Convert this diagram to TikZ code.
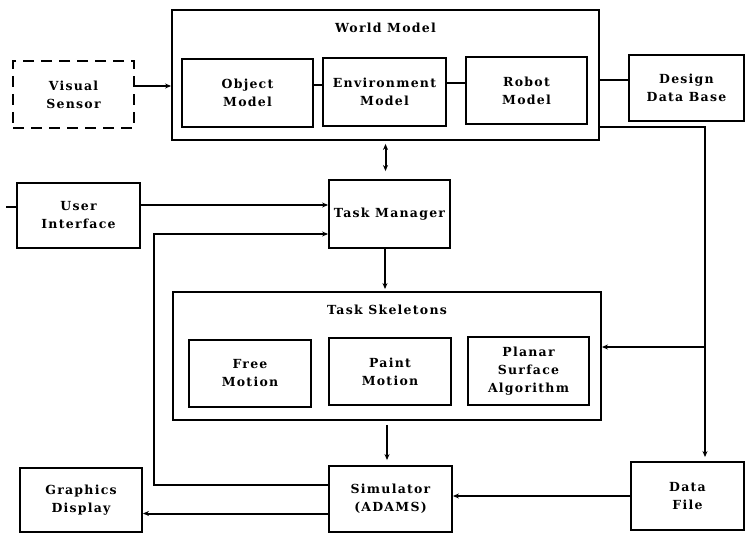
\documentclass[tikz,border=0pt]{standalone}
\usepackage{fontspec}
\newfontfamily\diafont{DejaVu Serif}[LetterSpace=10]
\usetikzlibrary{arrows.meta,positioning}

\begin{document}
\begin{tikzpicture}[x=1pt,y=-1pt,
  txt/.style={font=\diafont\bfseries\fontsize{12.5}{18}\selectfont,align=center},
  box/.style={txt,draw,line width=1.9pt,inner sep=0pt},
  sub/.style={box,line width=2.3pt,minimum width=122pt,minimum height=67pt},
  frame/.style={draw,line width=1.9pt,inner sep=0pt},
  link/.style={line width=2pt},
  arr/.style={link,-{Stealth[length=6pt,width=5pt]}}]
  \useasboundingbox (0,0) rectangle (746,534);
  % world model
  \node[frame,minimum width=427pt,minimum height=130pt] (wm) at (385.5,75) {};
  \node[txt] (wmtitle) at (385.5,28) {World Model};
  \node[sub,minimum width=131pt,minimum height=68pt] (om) at (247.5,93) {Object\\Model};
  \node[sub,minimum width=123pt,minimum height=68pt] (em) at (384.5,92) {Environment\\Model};
  \node[sub,minimum width=121pt] (rm) at (526.5,90.5) {Robot\\Model};
  \node[box,minimum width=115pt,minimum height=66pt] (ddb) at (686.5,88) {Design\\Data Base};
  \node[box,dash pattern=on 11pt off 7pt,line width=2.3pt,minimum width=121pt,minimum height=67pt] (vs) at (73.5,94.5) {Visual\\Sensor};
  % middle row
  \node[box,minimum width=123pt,minimum height=65pt] (ui) at (78.5,215.5) {User\\Interface};
  \node[box,minimum width=121pt,minimum height=68pt] (tm) at (389.5,214) {Task Manager};
  % task skeletons
  \node[frame,minimum width=428pt,minimum height=128pt] (ts) at (387,356) {};
  \node[txt] (tstitle) at (387,310) {Task Skeletons};
  \node[sub] (fm) at (250,373.5) {Free\\Motion};
  \node[sub] (pm) at (390,371.5) {Paint\\Motion};
  \node[sub,minimum width=121pt,minimum height=68pt] (psa) at (528.5,371) {Planar\\Surface\\Algorithm};
  % bottom row
  \node[box,minimum width=123pt,minimum height=66pt] (sim) at (390.5,499) {Simulator\\(ADAMS)};
  \node[box,minimum width=122pt,minimum height=64pt] (gd) at (81,500) {Graphics\\Display};
  \node[box,minimum width=113pt,minimum height=68pt] (df) at (687.5,496) {Data\\File};
  % links inside the world model
  \draw[link] ([yshift=8pt]om.east) -- ([yshift=8pt]om.east -| em.west);
  \draw[link] ([yshift=9pt]em.east) -- ([yshift=9pt]em.east -| rm.west);
  \draw[link] ([yshift=8pt]ddb.west -| wm.east) -- ([yshift=8pt]ddb.west);
  \draw[arr] ([yshift=8.5pt]vs.east) -- ([yshift=8.5pt]vs.east -| wm.west);
  % world model, task manager and task skeletons
  \draw[link,{Stealth[length=6pt,width=5pt]}-{Stealth[length=6pt,width=5pt]},shorten <=3pt,shorten >=8pt] (wm.south) -- (wm.south |- tm.north);
  \draw[arr] ([yshift=10.5pt]ui.east) -- ([yshift=10.5pt]ui.east -| tm.west);
  \draw[link] ([yshift=8pt]ui.west) -- ++(-10,0);
  \draw[arr,shorten >=2pt] ([xshift=-4.5pt]tm.south) -- ([xshift=-4.5pt]tm.south |- ts.north);
  \draw[arr,shorten <=4pt,shorten >=5pt] (ts.south) -- (ts.south |- sim.north);
  % data paths
  \coordinate (tap) at ([xshift=17.5pt]df.north |- 0,347);
  \draw[arr,shorten >=4pt] ([yshift=-52pt]wm.east) -| ([xshift=17.5pt]df.north);
  \draw[arr] (tap) -- (tap -| ts.east);
  \draw[arr] (df.west) -- (df.west -| sim.east);
  \draw[arr] ([yshift=-14.5pt]sim.west) -- ([yshift=-14.5pt]sim.west -| gd.east);
  % feedback to the task manager
  \draw[arr] ([yshift=14.5pt]sim.west) -- ++(-174,0) |- ([yshift=-20pt]tm.west);
\end{tikzpicture}
\end{document}
